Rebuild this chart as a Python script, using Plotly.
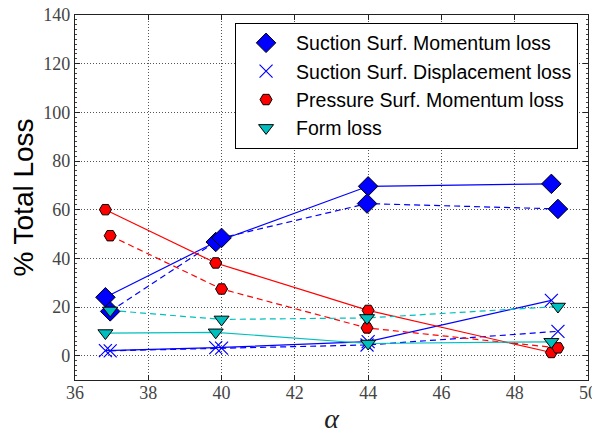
import plotly.graph_objects as go

# Angle of attack values (two cases: solid and dashed)
alpha_a = [36.83, 39.84, 44.0, 49.0]
alpha_b = [36.96, 40.0, 43.97, 49.18]

ss_mom_a = [24.0, 46.7, 69.6, 70.6]
ss_mom_b = [18.2, 48.4, 62.5, 60.3]
ss_disp_a = [2.1, 3.3, 5.8, 22.7]
ss_disp_b = [2.0, 3.1, 4.4, 10.0]
ps_mom_a = [60.0, 38.1, 18.6, 1.3]
ps_mom_b = [49.3, 27.4, 11.4, 3.2]
form_a = [9.3, 9.6, 5.0, 5.7]
form_b = [18.6, 14.9, 15.5, 20.2]

names = ["Suction Surf. Momentum loss", "Suction Surf. Displacement loss",
         "Pressure Surf. Momentum loss", "Form loss"]

series = [
    (ss_mom_a, ss_mom_b, "#0000ff", dict(symbol="diamond", size=15, color="#0000ff", line=dict(color="black", width=1))),
    (ss_disp_a, ss_disp_b, "#0000ff", dict(symbol="x-thin", size=13, color="#0000ff", line=dict(color="#0000ff", width=1.2))),
    (ps_mom_a, ps_mom_b, "#ff0000", dict(symbol="hexagon2", size=12, color="#ff0000", line=dict(color="black", width=1))),
    (form_a, form_b, "#00bfbf", dict(symbol="triangle-down", size=13, color="#00bfbf", line=dict(color="black", width=1))),
]

fig = go.Figure()
for (ya, yb, lc, mk), nm in zip(series, names):
    fig.add_trace(go.Scatter(x=alpha_a, y=ya, mode="lines", line=dict(color=lc, width=1.2),
                             showlegend=False, hoverinfo="skip"))
    fig.add_trace(go.Scatter(x=alpha_b, y=yb, mode="lines", line=dict(color=lc, width=1.2, dash="6px,4px"),
                             showlegend=False, hoverinfo="skip"))
for (ya, yb, lc, mk), nm in zip(series, names):
    fig.add_trace(go.Scatter(x=alpha_a, y=ya, mode="markers", marker=mk, name=nm, showlegend=True))
    fig.add_trace(go.Scatter(x=alpha_b, y=yb, mode="markers", marker=mk, name=nm, showlegend=False))

axis_common = dict(
    showline=True, linecolor="#222", linewidth=1.3, mirror="ticks",
    ticks="inside", ticklen=5, tickcolor="#222",
    showgrid=True, gridcolor="#555", griddash="1px,2px", gridwidth=1,
    zeroline=False, automargin=False, ticklabeloverflow="allow",
    tickfont=dict(family="Liberation Serif", size=18, color="#444"),
)

fig.update_xaxes(range=[36, 50], dtick=2, tick0=36, ticklabelstandoff=-4,
                 title=dict(text="<i>α</i>", font=dict(family="Liberation Serif", size=28, color="#222"), standoff=16),
                 **axis_common)
fig.update_yaxes(range=[-10, 140], tickvals=[0, 20, 40, 60, 80, 100, 120, 140],
                 minor=dict(ticks="inside", ticklen=2, dtick=2, tick0=0, tickcolor="#444", showgrid=False),
                 title=dict(text="% Total Loss", font=dict(family="Liberation Sans", size=28, color="black"), standoff=14),
                 **axis_common)

# The page body adds an 8px offset, so the figure is sized to fit inside the 600x434 window
fig.update_layout(
    width=592, height=426,
    margin=dict(l=67, r=12, t=7, b=54),
    plot_bgcolor="white", paper_bgcolor="white",
    legend=dict(x=0.312, y=0.979, xanchor="left", yanchor="top",
                bordercolor="black", borderwidth=1, bgcolor="white",
                font=dict(family="Liberation Sans", size=19.5, color="black"),
                tracegroupgap=0, itemwidth=50),
)

fig.write_html("out.html")
